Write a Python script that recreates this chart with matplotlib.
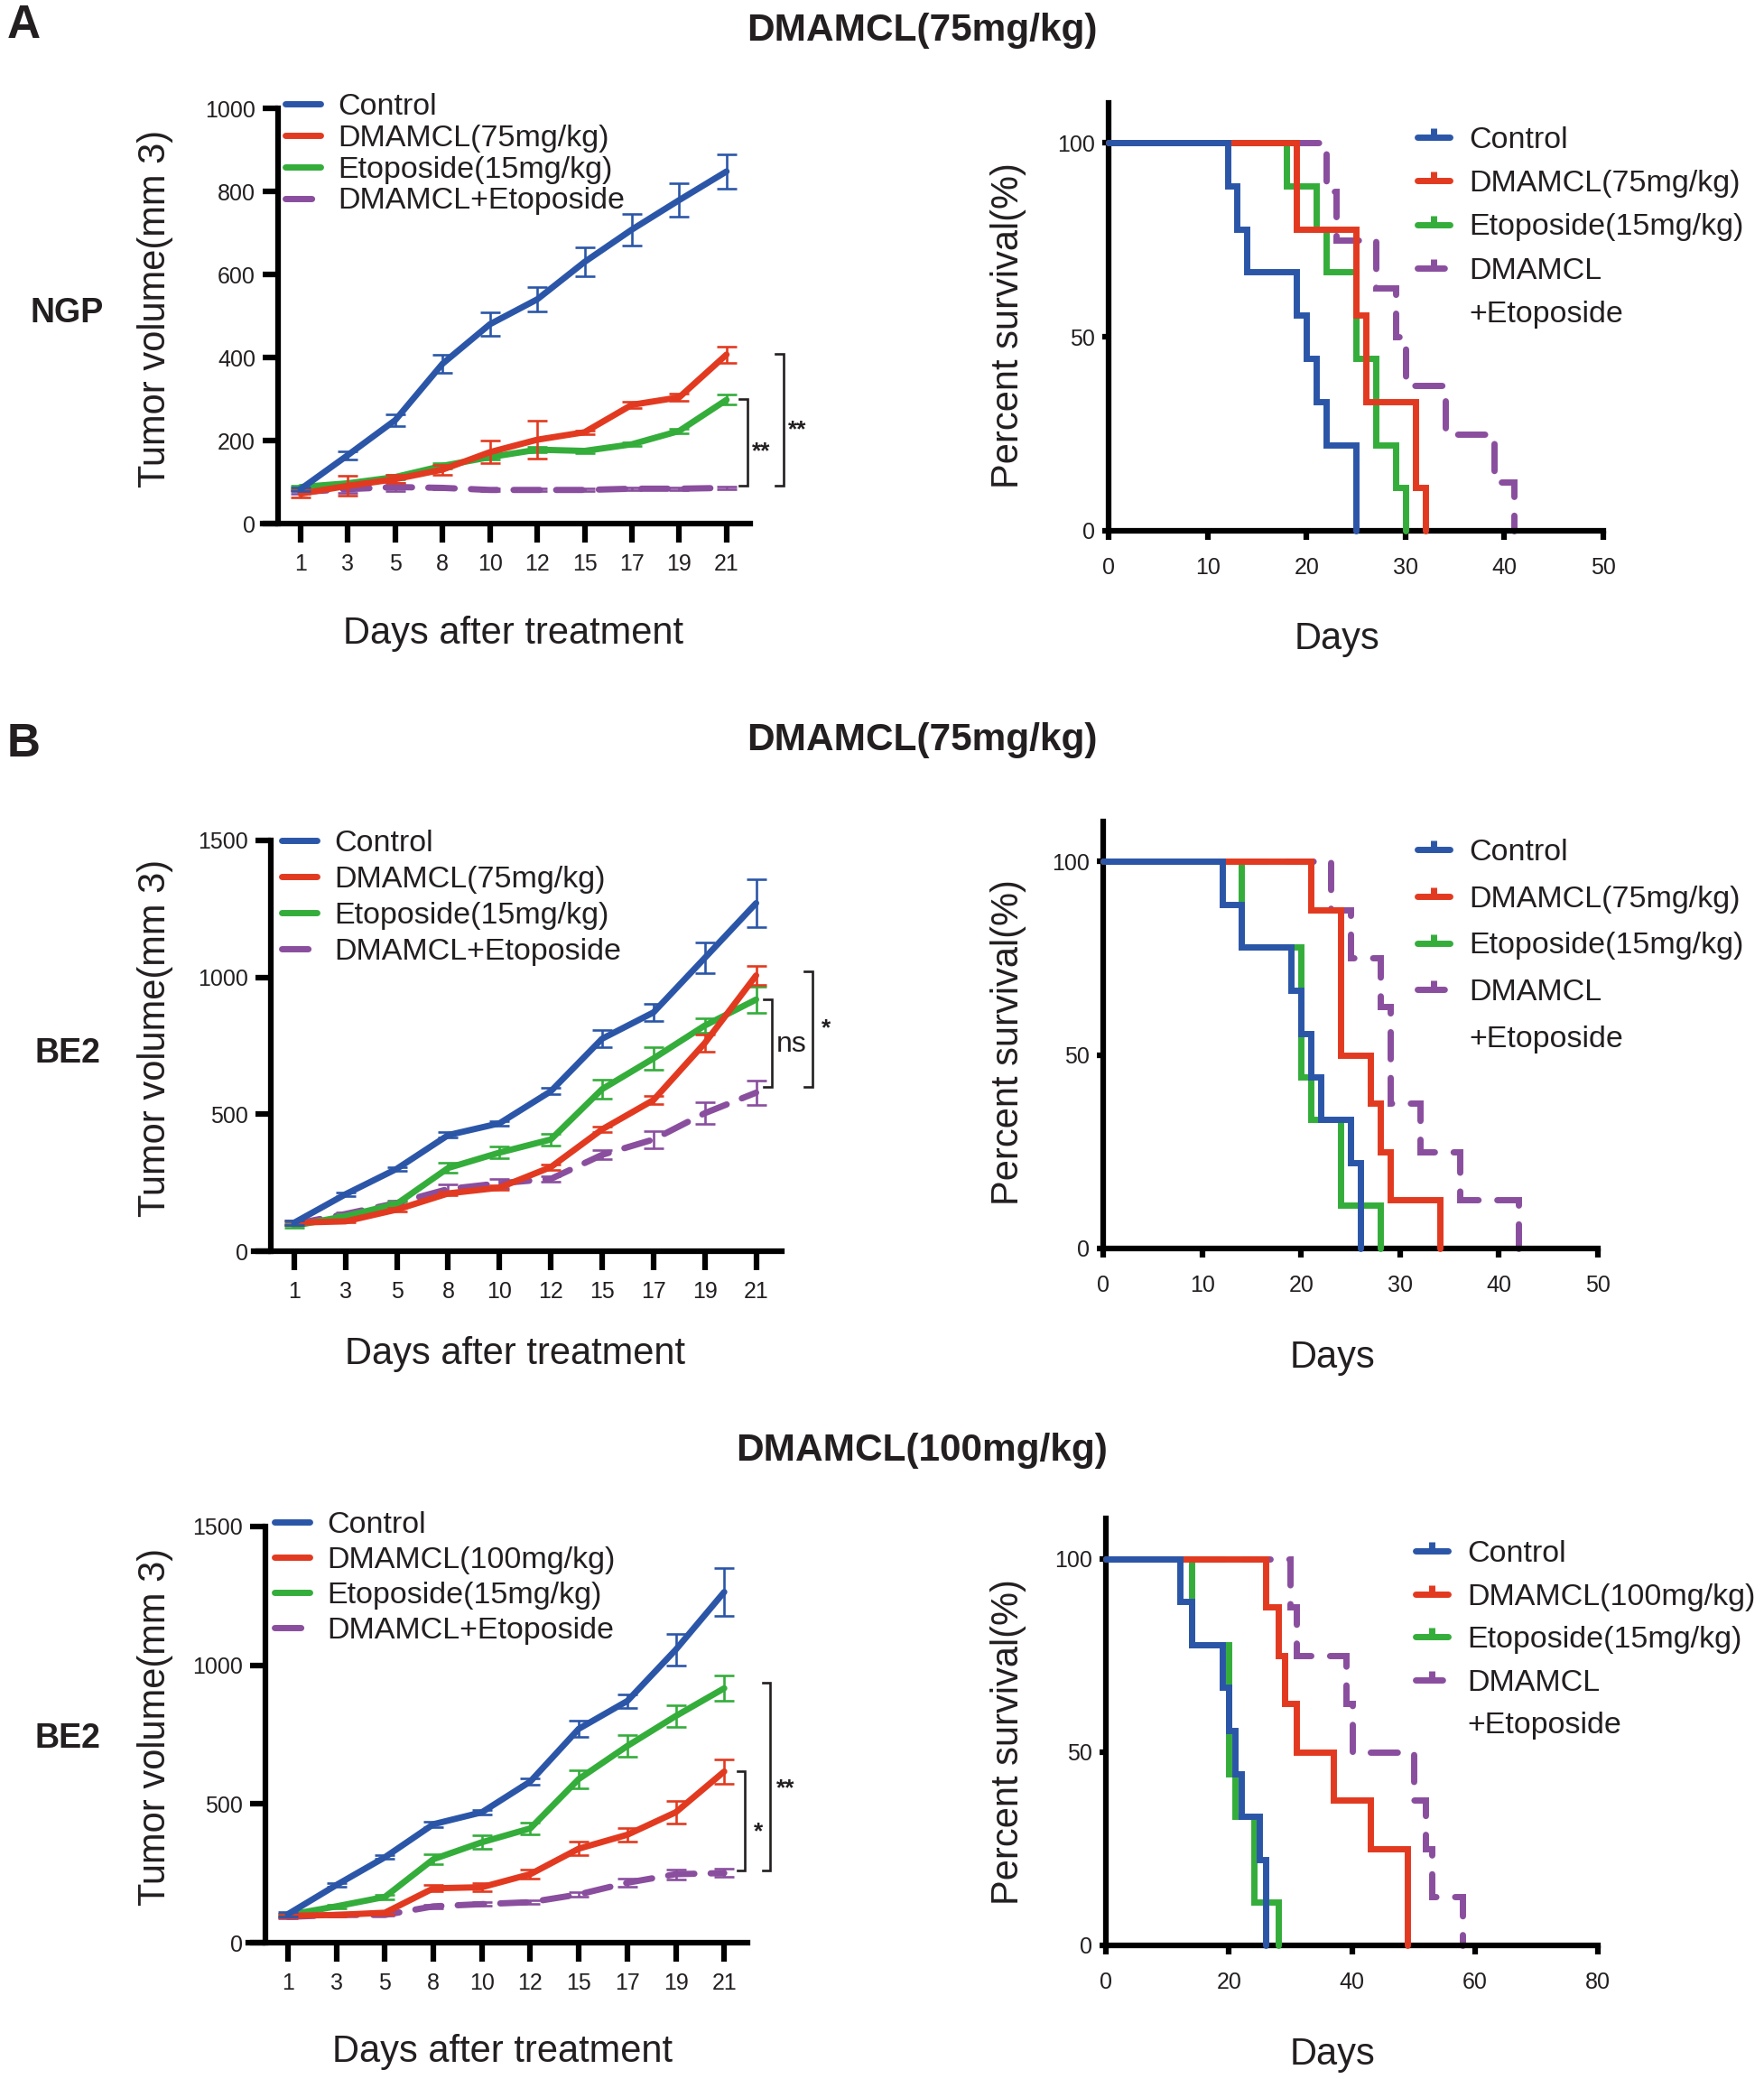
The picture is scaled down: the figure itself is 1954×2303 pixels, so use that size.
import matplotlib
matplotlib.use('Agg')
import matplotlib.pyplot as plt
from matplotlib.lines import Line2D
import numpy as np

W, H, DPI = 1954, 2303, 100
plt.rcParams['font.family'] = ['Liberation Sans', 'DejaVu Sans']
NARROW = ['Liberation Sans Narrow', 'Liberation Sans', 'DejaVu Sans']

TXT = '#231f20'
C_CTRL = '#2b56a8'
C_DMA = '#e23a20'
C_ETO = '#34ad3b'
C_COMB = '#8a4e9e'

# ---------------- data ----------------
days = [1, 3, 5, 8, 10, 12, 15, 17, 19, 21]

# Panel A: NGP, DMAMCL 75 mg/kg, tumor volume (mm3)
ngp_ctrl = [83, 165, 249, 385, 480, 540, 630, 708, 779, 848]
ngp_ctrl_err = [5, 10, 15, 22, 28, 30, 35, 38, 40, 42]
ngp_dma = [72, 91, 107, 130, 172, 202, 220, 286, 304, 407]
ngp_dma_err = [8, 24, 10, 12, 27, 45, 5, 8, 8, 20]
ngp_eto = [88, 97, 112, 139, 160, 178, 175, 191, 223, 298]
ngp_eto_err = [4, 4, 5, 6, 6, 6, 5, 5, 6, 12]
ngp_comb = [76, 83, 88, 86, 81, 81, 81, 84, 84, 86]
ngp_comb_err = [4, 8, 10, 4, 3, 3, 3, 3, 3, 3]

# Panel B: BE2, DMAMCL 75 mg/kg
be2a_ctrl = [104, 208, 301, 424, 467, 584, 776, 872, 1071, 1271]
be2a_ctrl_err = [8, 6, 6, 10, 8, 12, 32, 32, 55, 88]
be2a_dma = [104, 109, 152, 211, 232, 307, 445, 552, 760, 1007]
be2a_dma_err = [8, 5, 6, 8, 8, 10, 10, 16, 32, 34]
be2a_eto = [93, 128, 173, 304, 360, 408, 592, 704, 824, 919]
be2a_eto_err = [6, 6, 8, 18, 22, 22, 35, 40, 25, 48]
be2a_comb = [99, 136, 176, 227, 248, 264, 352, 408, 504, 579]
be2a_comb_err = [5, 6, 8, 16, 16, 10, 16, 32, 40, 44]

# Panel B: BE2, DMAMCL 100 mg/kg
be2b_ctrl = [103, 208, 308, 427, 470, 581, 771, 871, 1056, 1264]
be2b_ctrl_err = [8, 6, 6, 10, 8, 12, 30, 25, 58, 85]
be2b_dma = [97, 100, 108, 196, 200, 247, 339, 389, 470, 617]
be2b_dma_err = [6, 5, 6, 12, 15, 15, 25, 25, 42, 45]
be2b_eto = [100, 131, 165, 301, 362, 412, 590, 709, 817, 917]
be2b_eto_err = [5, 6, 8, 18, 25, 22, 33, 38, 38, 46]
be2b_comb = [93, 100, 100, 131, 139, 146, 174, 216, 247, 251]
be2b_comb_err = [4, 4, 4, 6, 6, 6, 8, 15, 18, 15]

# Survival (Kaplan-Meier steps): event days and percent survival
sA_ctrl_t = [0, 12, 13, 14, 19, 20, 21, 22, 25]
sA_ctrl_s = [100, 88.9, 77.8, 66.7, 55.6, 44.4, 33.3, 22.2, 0]
sA_dma_t = [0, 19, 25, 26, 31, 32]
sA_dma_s = [100, 77.8, 55.6, 33.3, 11.1, 0]
sA_eto_t = [0, 18, 21, 22, 25, 27, 29, 30]
sA_eto_s = [100, 88.9, 77.8, 66.7, 44.4, 22.2, 11.1, 0]
sA_comb_t = [0, 22, 23, 27, 29, 30, 34, 39, 41]
sA_comb_s = [100, 87.5, 75, 62.5, 50, 37.5, 25, 12.5, 0]

sB_ctrl_t = [0, 12, 14, 19, 20, 21, 22, 25, 26]
sB_ctrl_s = [100, 88.9, 77.8, 66.7, 55.6, 44.4, 33.3, 22.2, 0]
sB_dma_t = [0, 21, 24, 27, 28, 29, 34]
sB_dma_s = [100, 87.5, 50, 37.5, 25, 12.5, 0]
sB_eto_t = [0, 14, 20, 21, 24, 28]
sB_eto_s = [100, 77.8, 44.4, 33.3, 11.1, 0]
sB_comb_t = [0, 23, 25, 28, 29, 32, 36, 42]
sB_comb_s = [100, 87.5, 75, 62.5, 37.5, 25, 12.5, 0]

sC_ctrl_t = [0, 12, 14, 19, 20, 21, 22, 25, 26]
sC_ctrl_s = [100, 88.9, 77.8, 66.7, 55.6, 44.4, 33.3, 22.2, 0]
sC_dma_t = [0, 26, 28, 29, 31, 37, 43, 49]
sC_dma_s = [100, 87.5, 75, 62.5, 50, 37.5, 25, 0]
sC_eto_t = [0, 14, 20, 21, 24, 28]
sC_eto_s = [100, 77.8, 44.4, 33.3, 11.1, 0]
sC_comb_t = [0, 30, 31, 39, 40, 50, 52, 53, 58]
sC_comb_s = [100, 87.5, 75, 62.5, 50, 37.5, 25, 12.5, 0]

lab_ctrl = 'Control'
lab_dma75 = 'DMAMCL(75mg/kg)'
lab_dma100 = 'DMAMCL(100mg/kg)'
lab_eto = 'Etoposide(15mg/kg)'
lab_comb = 'DMAMCL+Etoposide'

# ---------------- figure ----------------
fig = plt.figure(figsize=(W / DPI, H / DPI), dpi=DPI)
LW = 5.0
SPINE_LW = 4.5
FS_PT = 24.5
FS_PX = FS_PT * DPI / 72.0
DASH_T = (0, (4.2, 2.6))
DASH_S = (0, (4.3, 3.0))


def px_ax(box):
    left, right, top, bottom = box
    return fig.add_axes([left / W, 1 - bottom / H, (right - left) / W, (bottom - top) / H])


def label_coords(box, cx, cy):
    left, right, top, bottom = box
    return (cx - left) / (right - left), (bottom - cy) / (bottom - top)


def style_axes(ax):
    for s in ('top', 'right'):
        ax.spines[s].set_visible(False)
    for s in ('left', 'bottom'):
        ax.spines[s].set_linewidth(SPINE_LW)
        ax.spines[s].set_color('black')


def place_legend(ax, handles, labels, hx, first_cy, spacing, hlen, tpad):
    row_h = 0.935 * FS_PX
    lsp = (spacing - row_h) / FS_PX
    top = first_cy - row_h / 2 + 2
    leg = ax.legend(handles, labels, loc='upper left',
                    bbox_to_anchor=(hx / W, 1 - top / H), bbox_transform=fig.transFigure,
                    frameon=False, borderpad=0, borderaxespad=0, fontsize=FS_PT,
                    handlelength=hlen, handletextpad=tpad, labelspacing=lsp, numpoints=1)
    for t in leg.get_texts():
        t.set_color(TXT)
    return leg


def tumor_panel(box, yspine_px, xlim, ylim, yticks, series, leg, ylab_c, xlab_c, brackets, stars):
    ax = px_ax(box)
    style_axes(ax)
    left, right, top, bottom = box
    ax.spines['left'].set_position(('axes', (yspine_px - left) / (right - left)))
    pos = np.arange(len(days))
    handles = {}
    for z, (vals, errs, color, label, dashed) in enumerate(reversed(series)):
        ls = DASH_T if dashed else '-'
        ln, = ax.plot(pos, vals, color=color, lw=LW, linestyle=ls,
                      solid_capstyle='round', solid_joinstyle='round',
                      dash_capstyle='round', dash_joinstyle='round', zorder=3 + 2 * z, clip_on=False)
        ax.errorbar(pos, vals, yerr=errs, fmt='none', ecolor=color, elinewidth=1.9,
                    capsize=8, capthick=1.9, zorder=4 + 2 * z)
        handles[label] = ln
    ax.set_xlim(*xlim)
    ax.set_ylim(*ylim)
    ax.set_xticks(pos)
    ax.set_xticklabels([str(d) for d in days])
    ax.set_yticks(yticks)
    ax.tick_params(axis='x', length=15, width=SPINE_LW, direction='out', pad=9,
                   labelsize=18, labelcolor=TXT)
    ax.tick_params(axis='y', length=12, width=SPINE_LW, direction='out', pad=6,
                   labelsize=18, labelcolor=TXT)
    labels = [s[3] for s in series]
    place_legend(ax, [handles[l] for l in labels], labels, leg[0], leg[1], leg[2], 1.16, 0.56)
    ax.set_ylabel('Tumor volume(mm 3)', fontsize=30, color=TXT)
    ax.yaxis.set_label_coords(*label_coords(box, *ylab_c))
    ax.yaxis.label.set_va('center')
    ax.set_xlabel('Days after treatment', fontsize=30, color=TXT)
    ax.xaxis.set_label_coords(*label_coords(box, *xlab_c))
    ax.xaxis.label.set_va('center')
    for (x, y0, y1) in brackets:
        ax.plot([x - 0.16, x, x, x - 0.16], [y0, y0, y1, y1], color=TXT, lw=1.9,
                clip_on=False, solid_joinstyle='miter', zorder=10)
    for (x, y, txt, narrow, fs) in stars:
        ax.annotate(txt, xy=(x, y), xytext=(0, -0.58 * fs if not narrow else 0),
                    textcoords='offset points', ha='center',
                    va='baseline' if not narrow else 'center',
                    fontsize=fs, color=TXT, family=NARROW if narrow else None,
                    weight='bold' if not narrow else 'normal',
                    annotation_clip=False)
    return ax


def surv_panel(box, xlim, xticks, curves, leg, ylab_c, xlab_c, ytop):
    ax = px_ax(box)
    style_axes(ax)
    hs, ls_ = [], []
    for z, (t, s, color, label, dashed) in enumerate(reversed(curves)):
        ls = DASH_S if dashed else '-'
        ax.step(t, s, where='post', color=color, lw=LW, linestyle=ls,
                solid_capstyle='round', solid_joinstyle='miter',
                dash_capstyle='round', dash_joinstyle='miter', zorder=2 + z, clip_on=False)
    for (t, s, color, label, dashed) in curves:
        h = Line2D([], [], color=color, lw=LW, linestyle=DASH_S if dashed else '-',
                   solid_capstyle='round', dash_capstyle='round',
                   marker=2, markersize=7, markeredgewidth=5)
        if dashed and '+' in label:
            first, second = label.split('+')
            hs += [h, Line2D([], [], color='none', lw=0)]
            ls_ += [first, '+' + second]
        else:
            hs.append(h)
            ls_.append(label)
    ax.set_xlim(*xlim)
    ax.set_ylim(0, ytop)
    ax.set_xticks(xticks)
    ax.set_yticks([0, 50, 100])
    ax.tick_params(axis='x', length=7, width=SPINE_LW, direction='out', pad=14,
                   labelsize=18, labelcolor=TXT)
    ax.tick_params(axis='y', length=5, width=SPINE_LW, direction='out', pad=6,
                   labelsize=18, labelcolor=TXT)
    place_legend(ax, hs, ls_, leg[0], leg[1], leg[2], 1.07, 0.62)
    ax.set_ylabel('Percent survival(%)', fontsize=30, color=TXT)
    ax.yaxis.set_label_coords(*label_coords(box, *ylab_c))
    ax.yaxis.label.set_va('center')
    ax.set_xlabel('Days', fontsize=30, color=TXT)
    ax.xaxis.set_label_coords(*label_coords(box, *xlab_c))
    ax.xaxis.label.set_va('center')
    return ax


def fig_text(x, y, s, **kw):
    fig.text(x / W, 1 - y / H, s, ha='center', va='center', color=TXT, **kw)


# ---------- Panel A ----------
fig_text(26, 29, 'A', fontsize=37, weight='bold')
fig_text(1021, 34, 'DMAMCL(75mg/kg)', fontsize=30.5, weight='bold')
fig_text(74, 347, 'NGP', fontsize=27, weight='bold', family=NARROW)

tumor_panel(
    box=(291, 831, 120, 580), yspine_px=308, xlim=(-0.80, 9.50), ylim=(0, 1000),
    yticks=[0, 200, 400, 600, 800, 1000],
    series=[(ngp_ctrl, ngp_ctrl_err, C_CTRL, lab_ctrl, False),
            (ngp_dma, ngp_dma_err, C_DMA, lab_dma75, False),
            (ngp_eto, ngp_eto_err, C_ETO, lab_eto, False),
            (ngp_comb, ngp_comb_err, C_COMB, lab_comb, True)],
    leg=(316, 117, 35.6), ylab_c=(172, 342), xlab_c=(568, 702),
    brackets=[(9.44, 91, 300), (10.20, 91, 409)],
    stars=[(9.74, 191, '**', False, 19), (10.50, 243, '**', False, 19)])

surv_panel(
    box=(1228, 1776, 114, 588), xlim=(0, 50), xticks=[0, 10, 20, 30, 40, 50],
    curves=[(sA_ctrl_t, sA_ctrl_s, C_CTRL, lab_ctrl, False),
            (sA_dma_t, sA_dma_s, C_DMA, lab_dma75, False),
            (sA_eto_t, sA_eto_s, C_ETO, lab_eto, False),
            (sA_comb_t, sA_comb_s, C_COMB, 'DMAMCL+Etoposide', True)],
    leg=(1570, 154, 49.0), ylab_c=(1117, 361), xlab_c=(1481, 708), ytop=110.3)

# ---------- Panel B (75 mg/kg) ----------
fig_text(26, 825, 'B', fontsize=37, weight='bold')
fig_text(1021, 820, 'DMAMCL(75mg/kg)', fontsize=30.5, weight='bold')
fig_text(75, 1167, 'BE2', fontsize=27, weight='bold', family=NARROW)

tumor_panel(
    box=(281, 866, 931, 1386), yspine_px=300, xlim=(-0.79, 9.50), ylim=(0, 1500),
    yticks=[0, 500, 1000, 1500],
    series=[(be2a_ctrl, be2a_ctrl_err, C_CTRL, lab_ctrl, False),
            (be2a_dma, be2a_dma_err, C_DMA, lab_dma75, False),
            (be2a_eto, be2a_eto_err, C_ETO, lab_eto, False),
            (be2a_comb, be2a_comb_err, C_COMB, lab_comb, True)],
    leg=(312, 933, 40.7), ylab_c=(172, 1150), xlab_c=(570, 1500),
    brackets=[(9.31, 600, 920), (10.10, 600, 1022)],
    stars=[(9.68, 755, 'ns', True, 23), (10.36, 840, '*', False, 19)])

surv_panel(
    box=(1222, 1770, 910, 1383), xlim=(0, 50), xticks=[0, 10, 20, 30, 40, 50],
    curves=[(sB_ctrl_t, sB_ctrl_s, C_CTRL, lab_ctrl, False),
            (sB_dma_t, sB_dma_s, C_DMA, lab_dma75, False),
            (sB_eto_t, sB_eto_s, C_ETO, lab_eto, False),
            (sB_comb_t, sB_comb_s, C_COMB, 'DMAMCL+Etoposide', True)],
    leg=(1570, 943, 52.5), ylab_c=(1117, 1155), xlab_c=(1476, 1504), ytop=110.3)

# ---------- Panel B (100 mg/kg) ----------
fig_text(1021, 1607, 'DMAMCL(100mg/kg)', fontsize=30.5, weight='bold')
fig_text(75, 1926, 'BE2', fontsize=27, weight='bold', family=NARROW)

tumor_panel(
    box=(275, 828, 1691, 2152), yspine_px=294, xlim=(-0.82, 9.48), ylim=(0, 1500),
    yticks=[0, 500, 1000, 1500],
    series=[(be2b_ctrl, be2b_ctrl_err, C_CTRL, lab_ctrl, False),
            (be2b_dma, be2b_dma_err, C_DMA, lab_dma100, False),
            (be2b_eto, be2b_eto_err, C_ETO, lab_eto, False),
            (be2b_comb, be2b_comb_err, C_COMB, lab_comb, True)],
    leg=(304, 1688, 39.7), ylab_c=(172, 1913), xlab_c=(557, 2273),
    brackets=[(9.43, 260, 618), (9.95, 260, 937)],
    stars=[(9.71, 426, '*', False, 19), (10.27, 582, '**', False, 19)])

surv_panel(
    box=(1225, 1770, 1682, 2155), xlim=(0, 80), xticks=[0, 20, 40, 60, 80],
    curves=[(sC_ctrl_t, sC_ctrl_s, C_CTRL, lab_ctrl, False),
            (sC_dma_t, sC_dma_s, C_DMA, lab_dma100, False),
            (sC_eto_t, sC_eto_s, C_ETO, lab_eto, False),
            (sC_comb_t, sC_comb_s, C_COMB, 'DMAMCL+Etoposide', True)],
    leg=(1568, 1720, 48.3), ylab_c=(1117, 1930), xlab_c=(1476, 2276), ytop=110.5)

fig.savefig('out.png', dpi=DPI, facecolor='white')
